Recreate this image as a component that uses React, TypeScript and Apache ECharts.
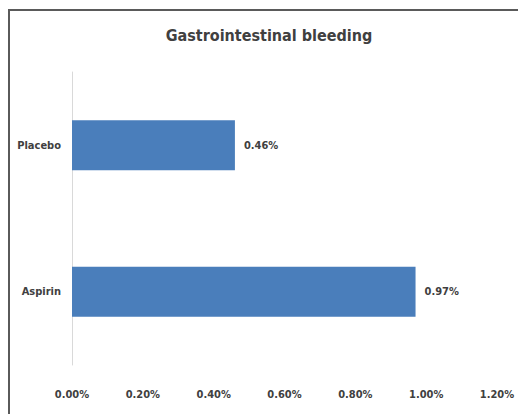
import React, { useEffect, useRef } from "react";
import * as echarts from "echarts";

const categories = ["Placebo", "Aspirin"];
const rates = [0.46, 0.97];
const tickMin = 0;
const tickMax = 1.2;
const tickStep = 0.2;

const FONT = "'Liberation Sans Narrow', 'DejaVu Sans Condensed', 'Open Sans', sans-serif";

export default function App() {
  const ref = useRef<HTMLDivElement>(null);

  useEffect(() => {
    if (!ref.current) return;
    const chart = echarts.init(ref.current, null, { renderer: "svg" });
    chart.setOption({
      animation: false,
      backgroundColor: "#ffffff",
      title: {
        text: "Gastrointestinal bleeding",
        left: 264,
        textAlign: "center",
        top: 22,
        textStyle: {
          fontFamily: FONT,
          fontSize: 16,
          fontWeight: "bold",
          color: "#404040",
        },
      },
      graphic: [
        {
          type: "rect",
          shape: { x: 9, y: 10, width: 540, height: 440 },
          style: { fill: "none", stroke: "#5a5a5a", lineWidth: 2 },
          silent: true,
        },
      ],
      grid: { left: 72, right: 21, top: 72, bottom: 49, containLabel: false },
      xAxis: {
        type: "value",
        min: tickMin,
        max: tickMax,
        interval: tickStep,
        axisLine: { show: false },
        axisTick: { show: false },
        splitLine: { show: false },
        axisLabel: {
          margin: 24,
          fontFamily: FONT,
          fontSize: 11,
          fontWeight: "bold",
          color: "#404040",
          formatter: (v: number) => v.toFixed(2) + "%",
        },
      },
      yAxis: {
        type: "category",
        data: categories,
        inverse: true,
        axisLine: { show: true, lineStyle: { color: "#d9d9d9", width: 1 } },
        axisTick: { show: false },
        axisLabel: {
          margin: 11,
          fontFamily: FONT,
          fontSize: 11,
          fontWeight: "bold",
          color: "#404040",
        },
      },
      series: [
        {
          type: "bar",
          data: rates,
          barWidth: "34%",
          itemStyle: { color: "#4a7ebb" },
          label: {
            show: true,
            position: "right",
            distance: 9,
            fontFamily: FONT,
            fontSize: 11,
            fontWeight: "bold",
            color: "#404040",
            formatter: (p: any) => p.value.toFixed(2) + "%",
          },
        },
      ],
    });
    return () => chart.dispose();
  }, []);

  return (
    <div
      ref={ref}
      style={{ position: "absolute", left: 0, top: 0, width: 518, height: 414 }}
    />
  );
}
